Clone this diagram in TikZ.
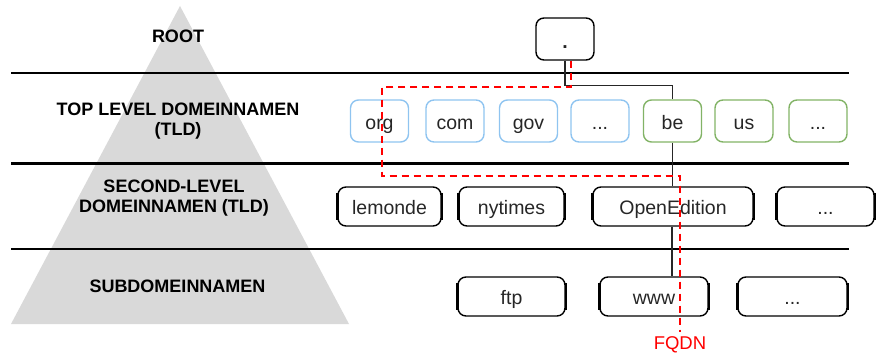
\documentclass[tikz,border=0pt]{standalone}
\usepackage{fontspec}
\setmainfont{Liberation Sans}
\definecolor{tldblue}{RGB}{143,196,240}
\definecolor{tldgreen}{RGB}{130,179,102}
\definecolor{pyrgray}{RGB}{217,217,217}
\begin{document}
\begin{tikzpicture}[x=1pt,y=-1pt,
  lvl/.style={font=\fontsize{18}{20}\selectfont\bfseries, align=center, text=black, inner sep=0pt},
  box/.style={draw, rounded corners=8pt, line width=1.4pt, minimum height=42pt, minimum width=58pt,
    inner sep=0pt, text height=16pt, text depth=0pt, font=\fontsize{19.5}{22}\selectfont, text=black!85},
  bluebox/.style={box, draw=tldblue},
  greenbox/.style={box, draw=tldgreen},
  blackbox/.style={box, draw=black, minimum height=39pt},
  sep/.style={line width=2.6pt, black},
  conn/.style={line width=1.3pt, black!85},
  fqdnline/.style={red, line width=1.5pt, dash pattern=on 7pt off 5pt}
]
\useasboundingbox (0,0) rectangle (876,353);
% pyramid
\fill[pyrgray] (180,6) -- (349,324) -- (11,324) -- cycle;
% separators
\draw[sep] (11,73) -- (849,73);
\draw[sep] (11,163.5) -- (849,163.5);
\draw[sep] (11,249) -- (849,249);
% level labels
\node[lvl] (lroot) at (178,36) {ROOT};
\node[lvl] (ltld) at (178,121) {TOP LEVEL DOMEINNAMEN\\(TLD)};
\node[lvl] (lsld) at (174,198.5) {SECOND-LEVEL\\DOMEINNAMEN (TLD)};
\node[lvl] (lsub) at (177.5,286) {SUBDOMEINNAMEN};
% root
\node[blackbox, minimum height=42pt] (root) at (565,39) {\raisebox{-2pt}{\textbf{.}}};
% TLD
\node[bluebox] (org) at (379.5,121) {org};
\node[bluebox] (com) at (455,121) {com};
\node[bluebox] (gov) at (528.5,121) {gov};
\node[bluebox] (bdots) at (600,121) {...};
\node[greenbox] (be) at (672.5,121) {be};
\node[greenbox] (us) at (744,121) {us};
\node[greenbox] (gdots) at (818,121) {...};
% second level
\node[blackbox, minimum width=103pt] (lm) at (389.5,206.5) {lemonde};
\node[blackbox, minimum width=105pt] (ny) at (511.5,206.5) {nytimes};
\node[blackbox, minimum width=160pt] (oe) at (673,206.5) {OpenEdition};
\node[blackbox, minimum width=97pt] (d2) at (825.5,206.5) {...};
% subdomains
\node[blackbox, minimum width=107pt] (ftp) at (511.5,296.5) {ftp};
\node[blackbox, minimum width=108pt] (www) at (654,296.5) {www};
\node[blackbox, minimum width=109pt] (d3) at (792.5,296.5) {...};
% thick sides
\foreach \n in {lm,ny,oe,d2,ftp,www,d3}{
  \draw[line width=2.4pt] ([yshift=-7pt]\n.north west) -- ([yshift=7pt]\n.south west);
  \draw[line width=2.4pt] ([yshift=-7pt]\n.north east) -- ([yshift=7pt]\n.south east);
}
% connectors
\coordinate (j1) at (565,85.5);
\draw[conn] (root.south) -- (j1) -| (be.north);
\draw[conn] (be.south) -- (be.south |- oe.north);
\draw[conn] ([xshift=-1pt]oe.south) -- ([xshift=-1pt]oe.south |- www.north);
% FQDN
\node[red, font=\fontsize{18.5}{22}\selectfont, inner sep=0pt, text height=13pt, text depth=0pt] (fq) at (680,343) {FQDN};
\coordinate (c1) at (382,87);
\coordinate (c2) at (382,176);
\draw[fqdnline] ([xshift=6pt]root.south) |- (c1) -- (c2) -| ([yshift=4pt]fq.north);
\end{tikzpicture}
\end{document}
